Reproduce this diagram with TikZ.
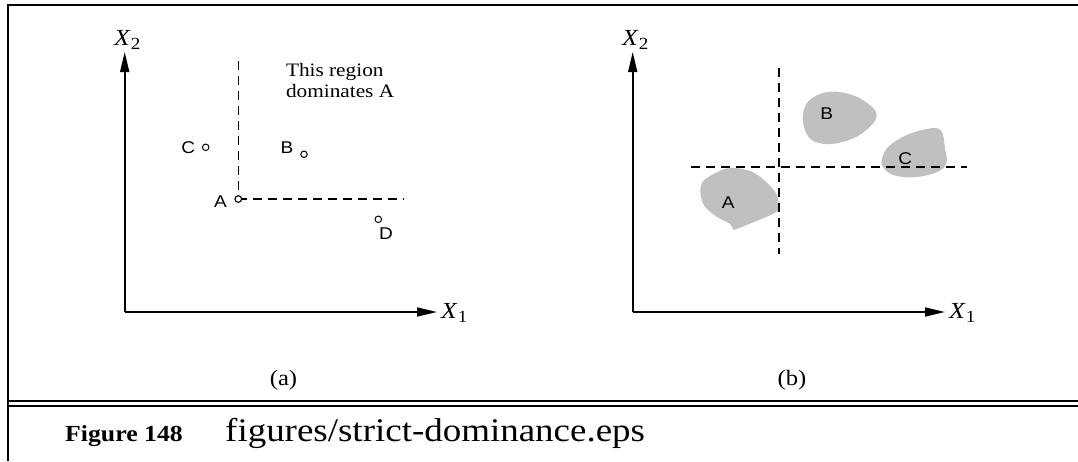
\documentclass[tikz,border=0pt]{standalone}
\usepackage{fontspec}
\usepackage{graphicx}
\setmainfont{Liberation Serif}
\newfontfamily\lsans{Liberation Sans}
\usetikzlibrary{arrows.meta}
\definecolor{blobgray}{RGB}{192,192,192}
\newcommand\widen[1]{\scalebox{1.12}[1]{#1}}
\newcommand\axisname[1]{\widen{\textit{X}\raisebox{-4pt}{\fontsize{17}{17}\selectfont #1}}}
\begin{document}
\begin{tikzpicture}[x=1pt,y=-1pt,
  frameline/.style={line width=2pt},
  axis/.style={line width=1.7pt,-{Triangle[length=20pt,width=9pt]}},
  divider/.style={line width=1.6pt,dash pattern=on 9pt off 6pt},
  datapoint/.style={circle,draw,fill=white,line width=1pt,minimum size=6.5pt,inner sep=0pt},
  lbl/.style={font={\lsans\fontsize{17}{20}\selectfont},inner sep=0pt,anchor=base},
  axlabel/.style={font={\fontsize{23}{27}\selectfont},inner sep=0pt,anchor=base west},
  sublabel/.style={font={\fontsize{22}{26}\selectfont},inner sep=0pt,anchor=base},
  regiontext/.style={font={\fontsize{19}{21.5}\selectfont},inner sep=0pt,anchor=base west},
  blob/.style={fill=blobgray,draw=none}]
\useasboundingbox (0,0) rectangle (1078,461);
% frame
\coordinate (ftr) at (1078,5.3);
\coordinate (ftl) at (7.5,5.3);
\coordinate (fbl) at (7.5,461);
\draw[frameline] (ftr) -- (ftl) -- (fbl);
\coordinate (d1l) at (7.5,401);
\coordinate (d1r) at (1078,401);
\coordinate (d2l) at (7.5,406);
\coordinate (d2r) at (1078,406);
\draw[frameline] (d1l) -- (d1r);
\draw[frameline] (d2l) -- (d2r);
% caption
\node[inner sep=0pt,anchor=base west,font={\bfseries\fontsize{23}{27}\selectfont}] (figlabel) at (65,441) {\widen{Figure 148}};
\node[inner sep=0pt,anchor=base west,font={\fontsize{33}{38}\selectfont}] (figname) at (225,441.5) {\widen{figures/strict-dominance.eps}};

% ---------- panel (a)
\coordinate (oa) at (124.7,312);
\coordinate (ya) at (124.7,52);
\coordinate (xa) at (437,312);
\draw[axis] (oa) -- (ya);
\draw[axis] (oa) -- (xa);
\node[axlabel] (x2a) at (114,45) {\axisname{2}};
\node[axlabel] (x1a) at (441,318) {\axisname{1}};
\coordinate (vta) at (238.3,61);
\coordinate (hra) at (403.5,199);
\node[datapoint] (pA) at (238.3,199) {};
\node[datapoint] (pB) at (304,154.3) {};
\node[datapoint] (pC) at (205.7,147.3) {};
\node[datapoint] (pD) at (378.3,219.3) {};
\draw[divider] (vta) -- (pA.center);
\draw[divider] (pA.center) -- (hra);
\node[datapoint] at (pA) {};
\node[lbl] (lA) at (220.5,207.8) {\widen{A}};
\node[lbl] (lB) at (287,153.8) {\widen{B}};
\node[lbl] (lC) at (188.3,153.8) {\widen{C}};
\node[lbl] (lD) at (386,239.4) {\widen{D}};
\node[regiontext] (reg1) at (285.8,76) {\widen{This region}};
\node[regiontext] (reg2) at (285.8,97.7) {\widen{dominates A}};
\node[sublabel] (capa) at (283.5,385.5) {\widen{(a)}};

% ---------- panel (b)
\coordinate (ob) at (632.7,312);
\coordinate (yb) at (632.7,52);
\coordinate (xb) at (945,312);
\draw[axis] (ob) -- (yb);
\draw[axis] (ob) -- (xb);
\node[axlabel] (x2b) at (622,45) {\axisname{2}};
\node[axlabel] (x1b) at (949,318) {\axisname{1}};
% blobs
\fill[blob] plot[smooth cycle,tension=0.6] coordinates {
  (711.7,175) (728.3,168.3) (746.7,170) (760,176.7) (775,191.7) (778.3,201.7)
  (776.7,211.7) (738.3,228.3) (733.3,229) (730,224) (716.7,216.7) (705,206.7)
  (700.7,195) (701.7,183.3)};
\fill[blob] plot[smooth cycle,tension=0.6] coordinates {
  (802.7,120) (806.7,103.3) (820,94) (836.7,91.7) (856.7,96.7) (871.7,106.7)
  (876.7,115) (871.7,125) (856.7,136.7) (836.7,143.3) (820,143.3) (808.3,136.7)};
\fill[blob] plot[smooth cycle,tension=0.6] coordinates {
  (881.7,160) (888.3,146.7) (906.7,135) (926.7,129) (937.3,128.3) (942.7,134)
  (945,148.3) (946.7,161.7) (940,170.7) (923.3,176) (906.7,177.3) (891.7,174.3)
  (883.3,167.3)};
\node[lbl] (bA) at (728.2,208.2) {\widen{A}};
\node[lbl] (bB) at (826.7,119.4) {\widen{B}};
\node[lbl] (bC) at (905.3,164.4) {\widen{C}};
\coordinate (vtb) at (779,68);
\coordinate (vbb) at (779,254);
\coordinate (hlb) at (691,167);
\coordinate (hrb) at (966.7,167);
\draw[divider] (vtb) -- (vbb);
\draw[divider] (hlb) -- (hrb);
\node[sublabel] (capb) at (792,385.5) {\widen{(b)}};
\end{tikzpicture}
\end{document}
